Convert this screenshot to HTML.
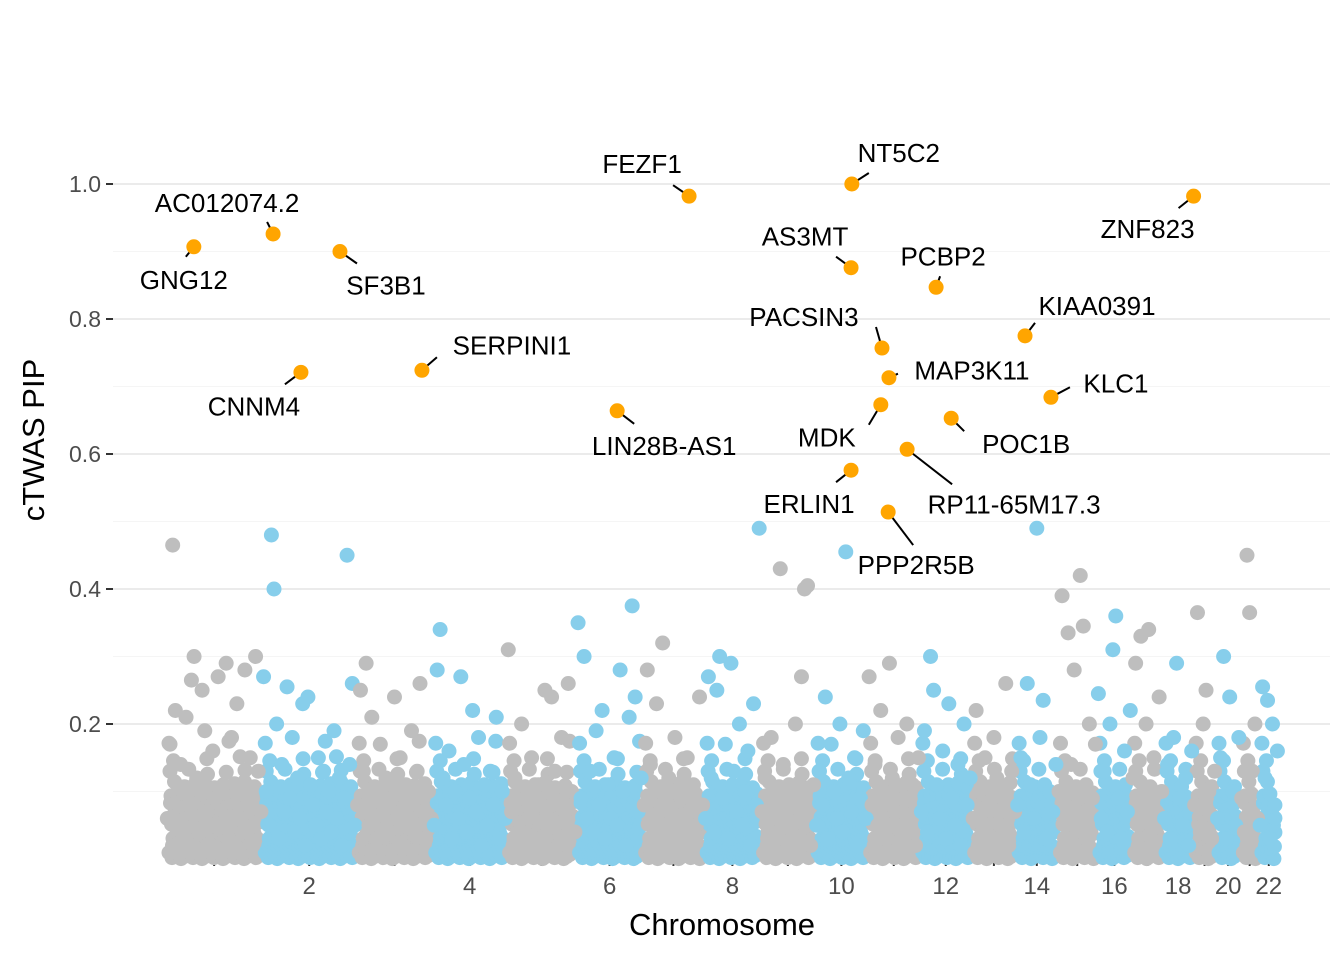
<!DOCTYPE html>
<html><head><meta charset="utf-8"><style>
body{margin:0;background:#fff;}
svg{display:block;font-family:"Liberation Sans",sans-serif;}
</style></head><body>
<svg id="chart" width="1344" height="960"></svg>
<script>
const chromLengths=[249,243,198,191,181,171,159,146,141,136,135,134,115,107,102,90,81,78,59,63,48,51];
const yTicks=[0.2,0.4,0.6,0.8,1.0];
const yTickLabels=["0.2","0.4","0.6","0.8","1.0"];
const xTickLabels=["","2","","4","","6","","8","","10","","12","","14","","16","","18","","20","","22"];
const bgPips=[
[0.06,0.17,0.465,0.22,0.05,0.14,0.03,0.21,0.08,0.265,0.30,0.12,0.04,0.25,0.19,0.07,0.02,0.16,0.09,0.27,0.05,0.11,0.29,0.03,0.18,0.06,0.23,0.1,0.04,0.28,0.08,0.15,0.02,0.3,0.13,0.07],
[0.27,0.1,0.05,0.48,0.40,0.2,0.03,0.14,0.07,0.255,0.09,0.18,0.04,0.12,0.06,0.23,0.02,0.24,0.11,0.08,0.05,0.15,0.03,0.13,0.07,0.1,0.04,0.19,0.06,0.12,0.02,0.09,0.45,0.14,0.26,0.05],
[0.08,0.25,0.13,0.29,0.05,0.21,0.1,0.03,0.17,0.07,0.12,0.04,0.09,0.24,0.06,0.15,0.02,0.11,0.08,0.19,0.04,0.13,0.26,0.07,0.03,0.1,0.06],
[0.05,0.28,0.34,0.12,0.08,0.16,0.03,0.1,0.06,0.27,0.14,0.04,0.09,0.22,0.07,0.18,0.02,0.11,0.05,0.13,0.08,0.21,0.03,0.1,0.06],
[0.31,0.07,0.12,0.04,0.2,0.09,0.06,0.15,0.03,0.11,0.08,0.25,0.05,0.24,0.13,0.02,0.18,0.07,0.26,0.1,0.04],
[0.35,0.09,0.30,0.06,0.13,0.04,0.19,0.08,0.22,0.03,0.11,0.06,0.15,0.05,0.28,0.1,0.02,0.21,0.375,0.24,0.07,0.12],
[0.08,0.28,0.14,0.05,0.23,0.1,0.32,0.04,0.12,0.07,0.18,0.03,0.09,0.06,0.15,0.02,0.11,0.05,0.24,0.08],
[0.06,0.27,0.12,0.04,0.25,0.3,0.09,0.17,0.03,0.29,0.13,0.07,0.2,0.05,0.1,0.16,0.02,0.23,0.08,0.49],
[0.07,0.12,0.04,0.18,0.09,0.03,0.43,0.14,0.06,0.1,0.05,0.2,0.08,0.27,0.40,0.405,0.02,0.11],
[0.05,0.13,0.08,0.24,0.03,0.17,0.1,0.06,0.2,0.04,0.455,0.12,0.07,0.15,0.02,0.09,0.19,0.06],
[0.27,0.08,0.14,0.05,0.22,0.1,0.03,0.29,0.12,0.07,0.18,0.04,0.09,0.2,0.06,0.11,0.02,0.15],
[0.07,0.19,0.04,0.3,0.25,0.11,0.06,0.16,0.03,0.23,0.09,0.05,0.14,0.02,0.2,0.08,0.12],
[0.06,0.22,0.1,0.04,0.15,0.08,0.03,0.18,0.12,0.05,0.09,0.26,0.02,0.13,0.07],
[0.08,0.15,0.04,0.26,0.11,0.06,0.49,0.18,0.235,0.03,0.1,0.07,0.14],
[0.1,0.39,0.05,0.335,0.14,0.28,0.07,0.42,0.345,0.03,0.2,0.09,0.17],
[0.245,0.06,0.13,0.04,0.2,0.31,0.36,0.09,0.03,0.16,0.07,0.22],
[0.12,0.29,0.05,0.33,0.08,0.2,0.34,0.03,0.15,0.07,0.24,0.1],
[0.06,0.14,0.03,0.18,0.29,0.09,0.05,0.12,0.02,0.16],
[0.08,0.365,0.04,0.2,0.25,0.1,0.03,0.13],
[0.06,0.15,0.3,0.03,0.24,0.1,0.05,0.18],
[0.09,0.04,0.45,0.365,0.13,0.2,0.06],
[0.05,0.255,0.12,0.235,0.03,0.2,0.08,0.16]
];
const bandLevels=[0.005,0.02,0.035,0.05,0.065,0.08,0.095,0.11,0.13,0.15,0.17];
const bandDensity=[1,1,1,1,0.9,0.7,0.5,0.3,0.16,0.09,0.05];
const genes=["GNG12","AC012074.2","SF3B1","CNNM4","SERPINI1","LIN28B-AS1","FEZF1","NT5C2","AS3MT","ERLIN1","PCBP2","ZNF823","KIAA0391","PACSIN3","MAP3K11","KLC1","MDK","POC1B","RP11-65M17.3","PPP2R5B"];
const geneChrom=[1,2,2,2,3,6,7,10,10,10,12,19,14,11,11,14,11,12,11,11];
const genePos=[72,28,201,100,170,105,120,95,93,93,42,1,23,37,55,90,34,81,102,53];
const genePip=[0.907,0.926,0.90,0.721,0.724,0.664,0.982,1.0,0.876,0.576,0.847,0.982,0.775,0.757,0.713,0.684,0.673,0.653,0.607,0.514];
// label placement (layout offsets relative to point)
const labelDx=[-10,-46,46,-47,90,47,-47,47,-46,-42,7,-46,72,-78,83,65,-54,75,107,28];
const labelDy=[33,-31,34,34,-25,35,-32,-31,-31,34,-31,33,-30,-31,-7,-14,33,26,55,53];
const leadDx=[-8,-6,17,-16,15,17,-16,17,-15,-15,4,-15,10,-6,9,19,-12,13,45,25];
const leadDy=[10,-12,12,12,-13,13,-11,-11,-11,12,-11,12,-13,-21,-4,-10,20,13,35,33];

const NS="http://www.w3.org/2000/svg";
const svg=document.getElementById('chart');
function mk(tag,attrs,parent){const e=document.createElementNS(NS,tag);for(const k in attrs)e.setAttribute(k,attrs[k]);(parent||svg).appendChild(e);return e;}
const X0=166,PXMB=0.3866,Y0=859,PXY=675;
const offsets=[];let acc=0;chromLengths.forEach(l=>{offsets.push(acc);acc+=l;});
function xs(chr,pos){return X0+(offsets[chr-1]+pos)*PXMB;}
function ys(v){return Y0-v*PXY;}

[0.1,0.3,0.5,0.7,0.9].forEach(v=>{const l=mk('line',{x1:113,x2:1330,y1:ys(v),y2:ys(v),stroke:'#F5F5F5','stroke-width':1});
});
yTicks.forEach((v,i)=>{const l=mk('line',{x1:113,x2:1330,y1:ys(v),y2:ys(v),stroke:'#EBEBEB','stroke-width':2});

const t=mk('line',{x1:106,x2:113,y1:ys(v),y2:ys(v),stroke:'#333','stroke-width':2});

const tx=mk('text',{x:101,y:ys(v)+8,'text-anchor':'end','font-size':23,fill:'#4D4D4D'});tx.textContent=yTickLabels[i];
});
chromLengths.forEach((l,i)=>{const cx=xs(i+1,l/2);
const t=mk('line',{x1:cx,x2:cx,y1:859,y2:866,stroke:'#333','stroke-width':2});

if(xTickLabels[i]){const tx=mk('text',{x:cx,y:894,'text-anchor':'middle','font-size':24,fill:'#4D4D4D'});tx.textContent=xTickLabels[i];
}});

chromLengths.forEach((L,ci)=>{const col=ci%2===0?'#BEBEBE':'#87CEEB';
const x1=xs(ci+1,0)+3,x2=xs(ci+1,L)-3;
bandLevels.forEach((v,k)=>{const step=3/bandDensity[k];
let j=0;for(let x=x1+(k%2)*1.5+(k*7%5);x<=x2;x+=step,j++){
const c=mk('circle',{cx:x,cy:ys(v)+((j*5+k*3)%7)-3,r:7.5,fill:col});
}});});

bgPips.forEach((arr,ci)=>{const L=chromLengths[ci];const col=ci%2===0?'#BEBEBE':'#87CEEB';
arr.forEach((v,j)=>{const pos=L*(j+0.5)/arr.length;
const c=mk('circle',{cx:xs(ci+1,pos),cy:ys(v),r:7.5,fill:col});
});});

genes.forEach((g,i)=>{const px=xs(geneChrom[i],genePos[i]),py=ys(genePip[i]);
const lx=px+labelDx[i],ly=py+labelDy[i];
const dx=leadDx[i],dy=leadDy[i],d=Math.hypot(dx,dy);
const l=mk('line',{x1:px+dx/d*4,y1:py+dy/d*4,x2:px+dx,y2:py+dy,stroke:'#000','stroke-width':2});

const c=mk('circle',{cx:px,cy:py,r:7.5,fill:'#FFA500'});

const t=mk('text',{x:lx,y:ly+9,'text-anchor':'middle','font-size':26,fill:'#000'});t.textContent=g;
});

const yt=mk('text',{x:0,y:0,transform:'translate(44,440) rotate(-90)','text-anchor':'middle','font-size':31,fill:'#000'});yt.textContent='cTWAS PIP';

const xt=mk('text',{x:722,y:935,'text-anchor':'middle','font-size':31,fill:'#000'});xt.textContent='Chromosome';

</script>
</body></html>
